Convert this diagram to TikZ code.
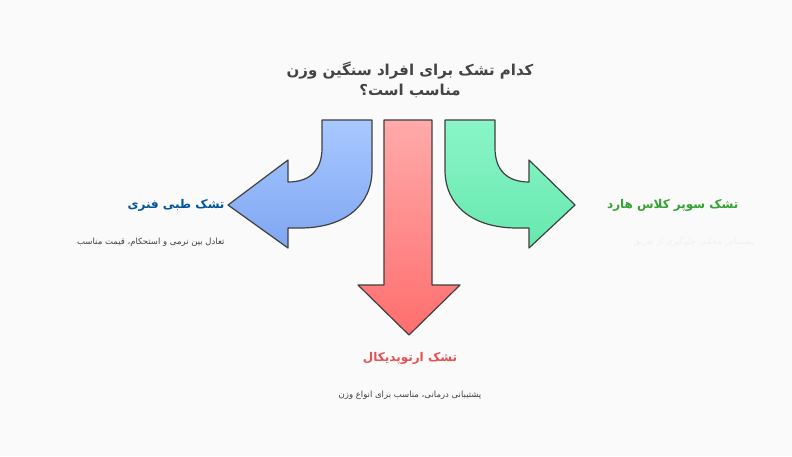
\documentclass[tikz,border=0pt]{standalone}
\usepackage{fontspec}
\newfontfamily\arabicfont[Script=Arabic]{DejaVu Sans}
\TeXXeTstate=1
\definecolor{bluetop}{HTML}{A8C8FF}
\definecolor{bluebot}{HTML}{7FA6F2}
\definecolor{redtop}{HTML}{FFAAAA}
\definecolor{redbot}{HTML}{FF6E6E}
\definecolor{greentop}{HTML}{8AF5C8}
\definecolor{greenbot}{HTML}{66E8AE}
\definecolor{titlegray}{HTML}{444444}
\tikzset{
  arrow body/.style={
    draw=black!75,
    line width=1.2pt,
    line join=round,
  },
  head text/.style={
    font=\arabicfont\bfseries\fontsize{12}{14}\selectfont,
  },
  note text/.style={
    font=\arabicfont\fontsize{8.5}{10}\selectfont,
    text=black!75,
  },
}
\begin{document}
\begin{tikzpicture}[x=1pt, y=-1pt]
      \fill[black!2] (0,0) rectangle (792,456);
      \useasboundingbox (0,0) rectangle (792,456);

      % title
      \node[font=\arabicfont\bfseries\fontsize{15}{20}\selectfont, text=titlegray, align=center] (title) at (410,80)
        {\beginR کدام تشک برای افراد سنگین وزن\endR\\\beginR مناسب است؟\endR};

      % left arrow
      \shade[arrow body, top color=bluetop, bottom color=bluebot]
        (322,120) -- (372,120) -- (372,170)
        .. controls (372,205) and (345,228) .. (300,228) -- (288,228)
        -- (288,248) -- (228,205) -- (288,160) -- (288,182)
        .. controls (310,182) and (322,170) .. (322,148) -- cycle;

      % center arrow
      \shade[arrow body, top color=redtop, bottom color=redbot]
        (384,120) -- (432,120) -- (432,285) -- (460,285)
        -- (409,335) -- (358,285) -- (384,285) -- cycle;

      % right arrow
      \shade[arrow body, top color=greentop, bottom color=greenbot]
        (495,120) -- (445,120) -- (445,170)
        .. controls (445,205) and (472,228) .. (517,228) -- (529,228)
        -- (529,248) -- (575,205) -- (529,160) -- (529,182)
        .. controls (507,182) and (495,170) .. (495,148) -- cycle;

      % labels
      \node[head text, text=blue!45!cyan!60!black, anchor=east] (soft) at (228,205)
        {\beginR تشک طبی فنری\endR};
      \node[note text, anchor=east] (softnote) at (228,242)
        {\beginR تعادل بین نرمی و استحکام، قیمت مناسب\endR};
      \node[head text, text=green!55!black!80, anchor=east] (hard) at (742,205)
        {\beginR تشک سوپر کلاس هارد\endR};
      \node[note text, text=black!6, anchor=east] (hardnote) at (758,242)
        {\beginR پشتیبانی محکم، جلوگیری از تعریق\endR};
      \node[head text, text=red!65!white!90!black, anchor=center] (ortho) at (410,358)
        {\beginR تشک ارتوپدیکال\endR};
      \node[note text, anchor=center] (orthonote) at (410,395)
        {\beginR پشتیبانی درمانی، مناسب برای انواع وزن\endR};
\end{tikzpicture}
\end{document}
